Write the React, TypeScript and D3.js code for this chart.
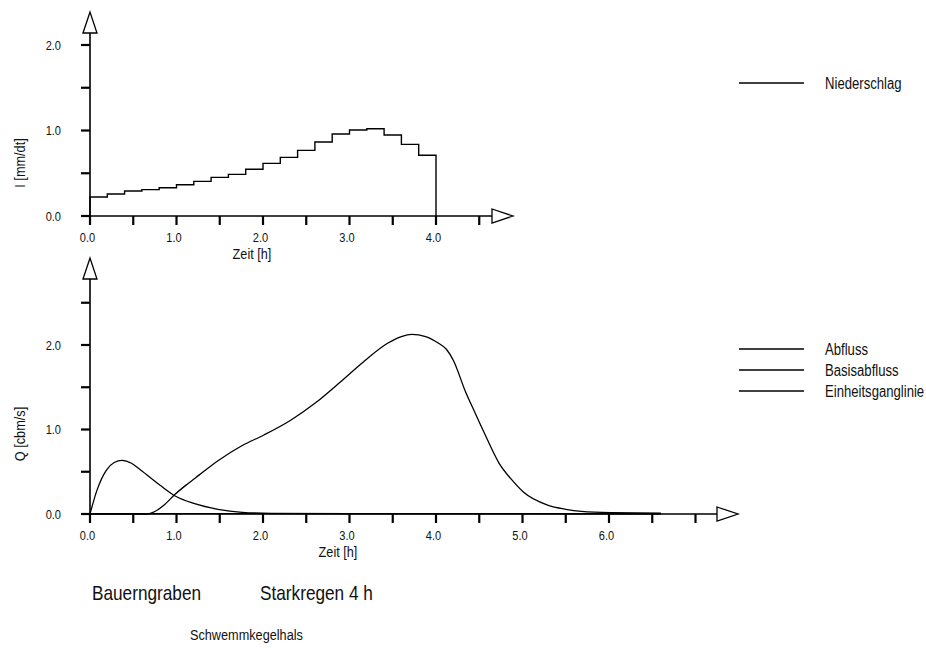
import React from "react";
import * as d3 from "d3";

// ---- data ----
const stepDuration = 0.2; // h
const niederschlag = [
  0.222, 0.257, 0.292, 0.308, 0.331, 0.366, 0.405, 0.452, 0.487, 0.546,
  0.616, 0.686, 0.768, 0.866, 0.959, 1.006, 1.021, 0.947, 0.838, 0.71,
];

const abflussT = [0, 0.5, 0.66, 0.75, 0.85, 0.98, 1.12, 1.26, 1.48, 1.76, 2.01, 2.32, 2.6, 2.88, 3.16, 3.44, 3.6, 3.72, 3.88, 4.03, 4.12, 4.2, 4.34, 4.45, 4.56, 4.73, 4.88, 5.01, 5.29, 5.5, 5.68, 6.02, 6.6];
const abflussQ = [0, 0, 0, 0.03, 0.1, 0.23, 0.35, 0.46, 0.63, 0.81, 0.935, 1.11, 1.31, 1.55, 1.8, 2.02, 2.1, 2.125, 2.1, 2.02, 1.95, 1.82, 1.45, 1.2, 0.955, 0.6, 0.4, 0.26, 0.105, 0.055, 0.03, 0.015, 0.01];

const basisT = [0, 1, 2, 3, 4, 5, 6, 6.6];
const basisQ = [0.005, 0.005, 0.005, 0.005, 0.005, 0.005, 0.005, 0.005];

const ehglT = [0, 0.08, 0.19, 0.28, 0.37, 0.48, 0.585, 0.81, 0.99, 1.2, 1.48, 1.76, 2.1, 3.0, 6.6];
const ehglQ = [0, 0.28, 0.52, 0.61, 0.635, 0.6, 0.52, 0.34, 0.21, 0.125, 0.055, 0.02, 0.008, 0.004, 0.003];

const topXTicks = [0, 0.5, 1, 1.5, 2, 2.5, 3, 3.5, 4, 4.5];
const topYTicks = [0, 0.5, 1, 1.5, 2];
const botXTicks = [0, 0.5, 1, 1.5, 2, 2.5, 3, 3.5, 4, 4.5, 5, 5.5, 6, 6.5, 7];
const botYTicks = [0, 0.5, 1, 1.5, 2, 2.5];
const topLegend = ["Niederschlag"];
const botLegend = ["Abfluss", "Basisabfluss", "Einheitsganglinie"];

const FONT = "'Liberation Sans', Arial, sans-serif";

function T({ x, y, size, anchor = "start", rotate = 0, children }: any) {
  return (
    <text
      transform={`translate(${x},${y}) rotate(${rotate}) scale(0.82,1)`}
      fontSize={size}
      fontFamily={FONT}
      textAnchor={anchor}
      fill="#111"
    >
      {children}
    </text>
  );
}

function Axes({ x, y, xTicks, yTicks, xEnd, yTop, xLabels, yLabels }: any) {
  const x0 = x(0);
  const y0 = y(0);
  const fmt = d3.format(".1f");
  return (
    <g stroke="#000" fill="none">
      <line x1={x0 - 9} y1={y0} x2={xEnd} y2={y0} strokeWidth={1.6} />
      <line x1={x0} y1={y0 + 9} x2={x0} y2={yTop + 21} strokeWidth={1.6} />
      <path d={`M${xEnd},${y0 - 7} L${xEnd + 21},${y0} L${xEnd},${y0 + 7} Z`} fill="#fff" strokeWidth={1.3} />
      <path d={`M${x0 - 7},${yTop + 21} L${x0},${yTop} L${x0 + 7},${yTop + 21} Z`} fill="#fff" strokeWidth={1.3} />
      {xTicks.map((t: number) => (
        <line key={"xt" + t} x1={x(t)} x2={x(t)} y1={y0} y2={y0 + 9} strokeWidth={2.2} />
      ))}
      {yTicks.map((t: number) => (
        <line key={"yt" + t} x1={x0 - 9} x2={x0} y1={y(t)} y2={y(t)} strokeWidth={2.2} />
      ))}
      <g stroke="none">
        {xLabels.map((t: number) => (
          <T key={"xl" + t} x={x(t) - 2.5} y={y0 + 26} size={13.5} anchor="middle">
            {fmt(t)}
          </T>
        ))}
        {yLabels.map((t: number) => (
          <T key={"yl" + t} x={61} y={y(t) + 4.8} size={13.5} anchor="end">
            {fmt(t)}
          </T>
        ))}
      </g>
    </g>
  );
}

export default function App() {
  const W = 926;
  const H = 648;
  const pxPerH = 86.5;

  const xTop = d3.scaleLinear().domain([0, 1]).range([90, 90 + pxPerH]);
  const yTop = d3.scaleLinear().domain([0, 2]).range([216, 45]);
  const xBot = d3.scaleLinear().domain([0, 1]).range([90, 90 + pxPerH]);
  const yBot = d3.scaleLinear().domain([0, 2]).range([514, 345]);

  const stepPts: [number, number][] = [[0, 0]];
  niederschlag.forEach((v, i) => stepPts.push([i * stepDuration, v]));
  const tEnd = niederschlag.length * stepDuration;
  stepPts.push([tEnd, niederschlag[niederschlag.length - 1]]);
  stepPts.push([tEnd, 0]);
  const stepLine = d3
    .line<[number, number]>()
    .x((d) => xTop(d[0]))
    .y((d) => yTop(d[1]))
    .curve(d3.curveStepAfter)(stepPts) as string;

  const smooth = (ts: number[], qs: number[]) =>
    d3
      .line<number>()
      .x((_, i) => xBot(ts[i]))
      .y((_, i) => yBot(qs[i]))
      .curve(d3.curveMonotoneX)(qs) as string;

  return (
    <svg
      width={W}
      height={H}
      style={{ position: "absolute", left: 0, top: 0, background: "#fff" }}
    >
      <rect width={W} height={H} fill="#fff" />
      <Axes
        x={xTop}
        y={yTop}
        xTicks={topXTicks}
        yTicks={topYTicks}
        xEnd={492}
        yTop={12}
        xLabels={[0, 1, 2, 3, 4]}
        yLabels={[0, 1, 2]}
      />
      <path d={stepLine} fill="none" stroke="#000" strokeWidth={1.4} />
      <T x={252} y={259} size={15.5} anchor="middle">Zeit [h]</T>
      <T x={25} y={163} size={15.5} anchor="middle" rotate={-90}>I [mm/dt]</T>

      <Axes
        x={xBot}
        y={yBot}
        xTicks={botXTicks}
        yTicks={botYTicks}
        xEnd={717}
        yTop={258}
        xLabels={[0, 1, 2, 3, 4, 5, 6]}
        yLabels={[0, 1, 2]}
      />
      <path d={smooth(basisT, basisQ)} fill="none" stroke="#000" strokeWidth={1.3} />
      <path d={smooth(ehglT, ehglQ)} fill="none" stroke="#000" strokeWidth={1.3} />
      <path d={smooth(abflussT, abflussQ)} fill="none" stroke="#000" strokeWidth={1.3} />
      <T x={338} y={557} size={15.5} anchor="middle">Zeit [h]</T>
      <T x={25} y={434} size={15.5} anchor="middle" rotate={-90}>Q [cbm/s]</T>

      {topLegend.map((name, i) => (
        <g key={name}>
          <line x1={739} x2={804} y1={83 + i * 21} y2={83 + i * 21} stroke="#000" strokeWidth={1.3} />
          <T x={825} y={88.5 + i * 21} size={16}>{name}</T>
        </g>
      ))}
      {botLegend.map((name, i) => (
        <g key={name}>
          <line x1={739} x2={804} y1={349 + i * 21} y2={349 + i * 21} stroke="#000" strokeWidth={1.3} />
          <T x={825} y={354.5 + i * 21} size={16}>{name}</T>
        </g>
      ))}

      <T x={92} y={600} size={21}>Bauerngraben</T>
      <T x={260} y={600} size={21}>Starkregen 4 h</T>
      <T x={190} y={640} size={15.5}>Schwemmkegelhals</T>
    </svg>
  );
}
